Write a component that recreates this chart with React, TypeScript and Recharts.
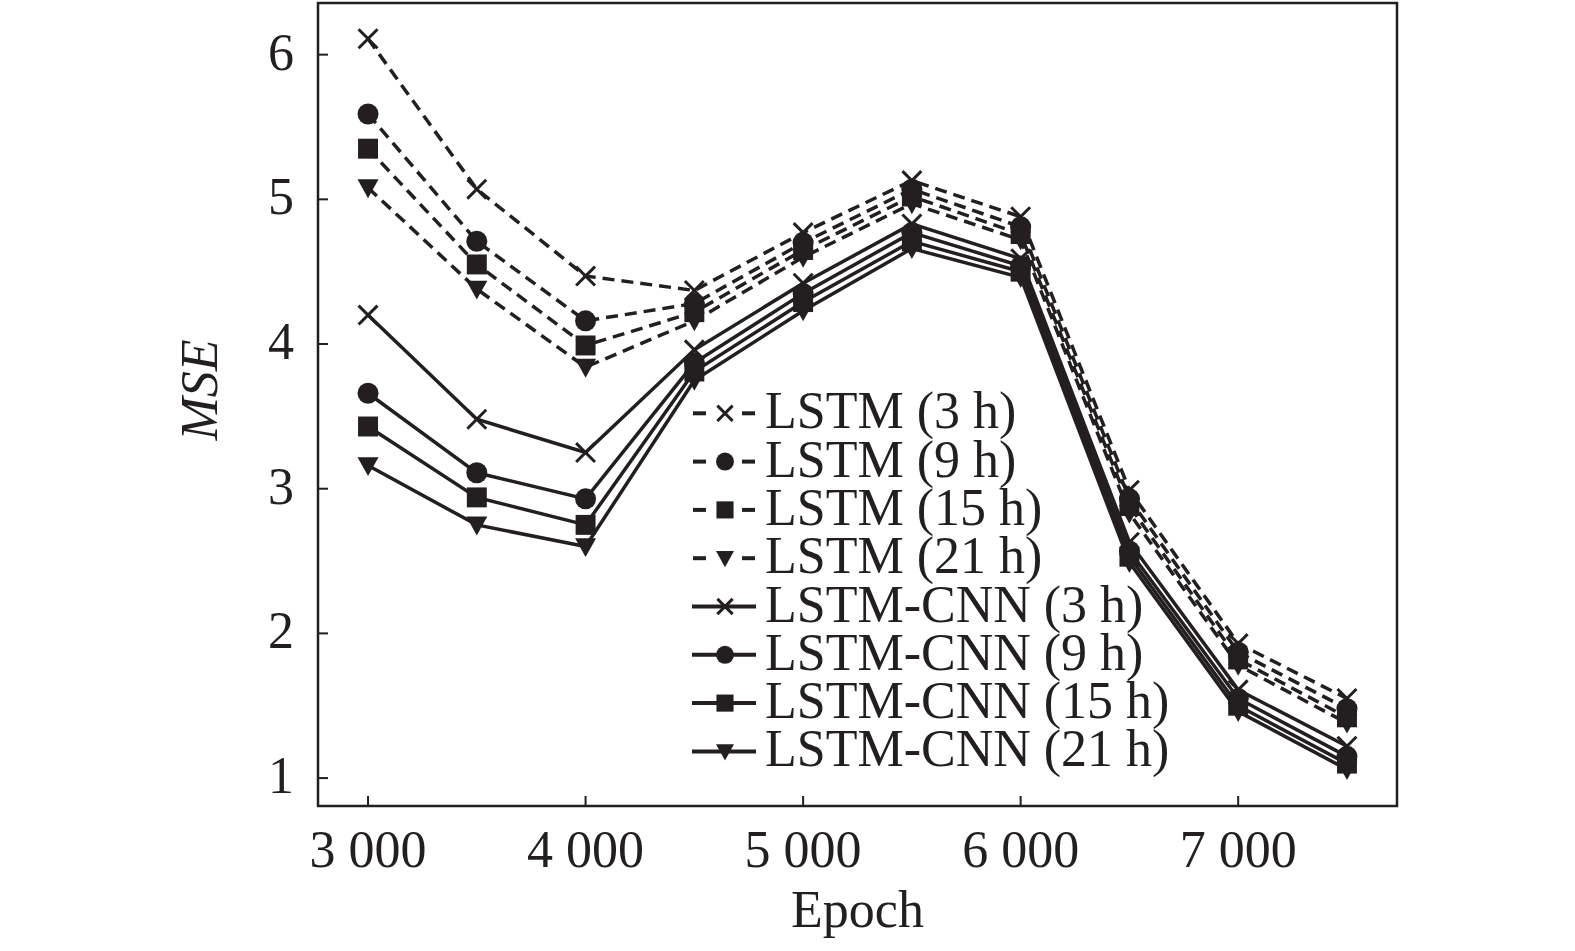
import React from 'react';
import { LineChart, Line, XAxis, YAxis, ReferenceArea, Legend } from 'recharts';

const epochs = [3000, 3500, 4000, 4500, 5000, 5500, 6000, 6500, 7000, 7500];

const lstm3 = [6.11, 5.07, 4.47, 4.37, 4.77, 5.13, 4.88, 2.99, 1.93, 1.55];
const lstm9 = [5.59, 4.71, 4.16, 4.28, 4.7, 5.07, 4.81, 2.93, 1.87, 1.48];
const lstm15 = [5.35, 4.55, 3.99, 4.22, 4.65, 5.02, 4.76, 2.88, 1.82, 1.42];
const lstm21 = [5.08, 4.38, 3.84, 4.16, 4.6, 4.97, 4.72, 2.83, 1.78, 1.38];
const cnn3 = [4.2, 3.48, 3.25, 3.96, 4.42, 4.83, 4.59, 2.63, 1.61, 1.22];
const cnn9 = [3.66, 3.11, 2.93, 3.87, 4.35, 4.77, 4.54, 2.57, 1.55, 1.15];
const cnn15 = [3.43, 2.94, 2.75, 3.81, 4.29, 4.71, 4.5, 2.53, 1.5, 1.1];
const cnn21 = [3.16, 2.75, 2.6, 3.75, 4.23, 4.66, 4.46, 2.49, 1.46, 1.06];

const xTicks = [3000, 4000, 5000, 6000, 7000];
const xTickLabels = ['3 000', '4 000', '5 000', '6 000', '7 000'];
const yTicks = [1, 2, 3, 4, 5, 6];
const yTickLabels = ['1', '2', '3', '4', '5', '6'];

const xDomain = [2770, 7730];
const yDomain = [0.807, 6.357];

const INK = '#231f20';
const FONT = '"Liberation Serif", "Times New Roman", serif';

type Shape = 'cross' | 'circle' | 'square' | 'triangle';

const seriesDefs: { key: string; name: string; values: number[]; shape: Shape; dashed: boolean }[] = [
  { key: 'lstm3', name: 'LSTM (3 h)', values: lstm3, shape: 'cross', dashed: true },
  { key: 'lstm9', name: 'LSTM (9 h)', values: lstm9, shape: 'circle', dashed: true },
  { key: 'lstm15', name: 'LSTM (15 h)', values: lstm15, shape: 'square', dashed: true },
  { key: 'lstm21', name: 'LSTM (21 h)', values: lstm21, shape: 'triangle', dashed: true },
  { key: 'cnn3', name: 'LSTM-CNN (3 h)', values: cnn3, shape: 'cross', dashed: false },
  { key: 'cnn9', name: 'LSTM-CNN (9 h)', values: cnn9, shape: 'circle', dashed: false },
  { key: 'cnn15', name: 'LSTM-CNN (15 h)', values: cnn15, shape: 'square', dashed: false },
  { key: 'cnn21', name: 'LSTM-CNN (21 h)', values: cnn21, shape: 'triangle', dashed: false },
];

const data = epochs.map((e, i) => {
  const row: Record<string, number> = { epoch: e };
  seriesDefs.forEach((s) => {
    row[s.key] = s.values[i];
  });
  return row;
});

function Marker({ shape, cx, cy, size }: { shape: Shape; cx: number; cy: number; size: number }) {
  const h = size / 2;
  if (shape === 'cross') {
    const c = h * 0.9;
    return (
      <g>
        <line x1={cx - c} y1={cy - c} x2={cx + c} y2={cy + c} stroke={INK} strokeWidth={3} />
        <line x1={cx - c} y1={cy + c} x2={cx + c} y2={cy - c} stroke={INK} strokeWidth={3} />
      </g>
    );
  }
  if (shape === 'circle') {
    return <circle cx={cx} cy={cy} r={h} fill={INK} />;
  }
  if (shape === 'square') {
    return <rect x={cx - h * 0.95} y={cy - h * 0.95} width={h * 1.9} height={h * 1.9} fill={INK} />;
  }
  return (
    <polygon
      points={`${cx - h},${cy - h * 0.8} ${cx + h},${cy - h * 0.8} ${cx},${cy + h * 1.0}`}
      fill={INK}
    />
  );
}

const makeDot = (shape: Shape, key: string) => (props: any) => {
  const { cx, cy, index } = props;
  if (cx == null || cy == null) return <g key={`${key}-${index}`} />;
  return (
    <g key={`${key}-${index}`}>
      <Marker shape={shape} cx={cx} cy={cy} size={21} />
    </g>
  );
};

const XTick = (props: any) => {
  const { x, y, payload } = props;
  const i = xTicks.indexOf(payload.value);
  return (
    <g>
      <line x1={x} y1={y} x2={x} y2={y - 10} stroke={INK} strokeWidth={2} />
      <text x={x} y={y + 61} textAnchor="middle" fontSize={52} fontFamily={FONT} fill={INK}>
        {xTickLabels[i]}
      </text>
    </g>
  );
};

const YTick = (props: any) => {
  const { x, y, payload } = props;
  const i = yTicks.indexOf(payload.value);
  return (
    <g>
      <line x1={x} y1={y} x2={x + 10} y2={y} stroke={INK} strokeWidth={2} />
      <text x={x - 24} y={y + 15} textAnchor="end" fontSize={52} fontFamily={FONT} fill={INK}>
        {yTickLabels[i]}
      </text>
    </g>
  );
};

const LegendContent = () => {
  const rowH = 48.3;
  return (
    <svg width={520} height={410} style={{ overflow: 'visible' }}>
      {seriesDefs.map((s, i) => {
        const base = 48.3 + rowH * i;
        const cy = base - 15;
        return (
          <g key={s.key}>
            {s.dashed ? (
              <g>
                <line x1={13} y1={cy} x2={26} y2={cy} stroke={INK} strokeWidth={4} />
                <line x1={62} y1={cy} x2={75} y2={cy} stroke={INK} strokeWidth={4} />
              </g>
            ) : (
              <line x1={12} y1={cy} x2={76} y2={cy} stroke={INK} strokeWidth={4} />
            )}
            <Marker shape={s.shape} cx={45} cy={cy} size={s.shape === 'cross' ? 17 : 18} />
            <text x={85} y={base} fontSize={52} fontFamily={FONT} fill={INK}>
              {s.name}
            </text>
          </g>
        );
      })}
    </svg>
  );
};

export default function App() {
  return (
    <div style={{ position: 'absolute', left: 0, top: 0, width: 1575, height: 951, background: '#fff' }}>
      <LineChart
        width={1575}
        height={951}
        data={data}
        margin={{ top: 3, right: 178, bottom: 0, left: 0 }}
      >
        <XAxis
          dataKey="epoch"
          type="number"
          domain={xDomain}
          ticks={xTicks}
          allowDataOverflow
          axisLine={false}
          tickLine={false}
          tickSize={0}
          tickMargin={0}
          height={145}
          tick={<XTick />}
          interval={0}
          label={{
            content: (p: any) => {
              const vb = p.viewBox || {};
              return (
                <text
                  x={vb.x + vb.width / 2}
                  y={vb.y + 121}
                  textAnchor="middle"
                  fontSize={52}
                  fontFamily={FONT}
                  fill={INK}
                >
                  Epoch
                </text>
              );
            },
          }}
        />
        <YAxis
          type="number"
          domain={yDomain}
          ticks={yTicks}
          allowDataOverflow
          axisLine={false}
          tickLine={false}
          tickSize={0}
          tickMargin={0}
          width={318}
          tick={<YTick />}
          interval={0}
          label={{
            content: (p: any) => {
              const vb = p.viewBox || {};
              const lx = vb.x + 217;
              const ly = 390;
              return (
                <text
                  x={lx}
                  y={ly}
                  transform={`rotate(-90, ${lx}, ${ly})`}
                  textAnchor="middle"
                  fontSize={52}
                  fontStyle="italic"
                  fontFamily={FONT}
                  fill={INK}
                >
                  MSE
                </text>
              );
            },
          }}
        />
        <ReferenceArea
          x1={xDomain[0]}
          x2={xDomain[1]}
          y1={yDomain[0]}
          y2={yDomain[1]}
          fill="none"
          fillOpacity={0}
          stroke={INK}
          strokeWidth={2.5}
          ifOverflow="visible"
        />
        {seriesDefs.map((s) => (
          <Line
            key={s.key}
            dataKey={s.key}
            name={s.name}
            type="linear"
            stroke={INK}
            strokeWidth={3.5}
            strokeDasharray={s.dashed ? '12 7' : undefined}
            dot={makeDot(s.shape, s.key)}
            activeDot={false}
            isAnimationActive={false}
          />
        ))}
        <Legend
          layout="vertical"
          align="center"
          verticalAlign="middle"
          content={<LegendContent />}
          wrapperStyle={{ position: 'absolute', left: 680, top: 380, width: 520, height: 410 }}
        />
      </LineChart>
    </div>
  );
}
